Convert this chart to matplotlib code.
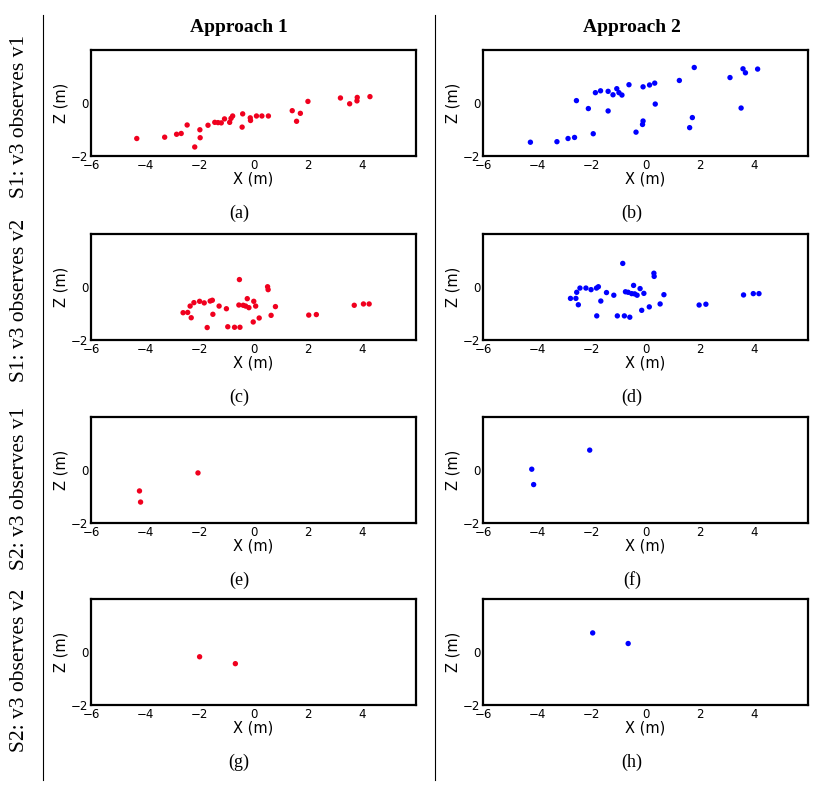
import matplotlib
matplotlib.use("Agg")
import matplotlib.pyplot as plt
from matplotlib.lines import Line2D

# (a) S1, v3 observes v1, approach 1
a_x = [-4.31, -3.28, -2.84, -2.67, -2.45, -2.17, -1.98, -1.97, -1.68, -1.43, -1.31,
       -1.19, -1.07, -0.88, -0.83, -0.77, -0.40, -0.42, -0.12, -0.11, 0.11, 0.31,
       0.55, 1.43, 1.59, 1.73, 2.01, 3.21, 3.55, 3.83, 3.82, 4.30]
a_z = [-1.34, -1.29, -1.18, -1.15, -0.83, -1.66, -1.01, -1.31, -0.84, -0.73, -0.74,
       -0.75, -0.60, -0.73, -0.58, -0.49, -0.41, -0.91, -0.56, -0.66, -0.49, -0.49,
       -0.49, -0.29, -0.69, -0.39, 0.06, 0.19, -0.03, 0.21, 0.08, 0.24]

# (b) S1, v3 observes v1, approach 2
b_x = [-4.25, -3.27, -2.86, -2.62, -2.55, -2.11, -1.93, -1.85, -1.66, -1.38, -1.38,
       -1.20, -1.06, -0.98, -0.87, -0.61, -0.35, -0.09, -0.09, -0.11, 0.15, 0.34,
       0.36, 1.25, 1.63, 1.73, 1.80, 3.12, 3.53, 3.60, 3.69, 4.14]
b_z = [-1.48, -1.46, -1.34, -1.30, 0.09, -0.21, -1.16, 0.39, 0.46, 0.44, -0.30,
       0.31, 0.54, 0.39, 0.30, 0.69, -1.10, 0.61, -0.68, -0.81, 0.68, 0.75,
       -0.04, 0.85, -0.93, -0.55, 1.34, 0.96, -0.19, 1.29, 1.14, 1.28]

# (c) S1, v3 observes v2, approach 1
c_x = [-2.60, -2.43, -2.34, -2.30, -2.20, -1.99, -1.82, -1.71, -1.60, -1.52, -1.50,
       -1.27, -1.00, -0.95, -0.70, -0.50, -0.52, -0.54, -0.38, -0.23, -0.29, -0.17,
       0.01, 0.08, -0.01, 0.21, 0.52, 0.54, 0.65, 0.81, 2.04, 2.32, 3.72, 4.06, 4.27]
c_z = [-0.97, -0.96, -0.72, -1.16, -0.59, -0.54, -0.60, -1.53, -0.53, -0.50, -1.03,
       -0.72, -0.82, -1.50, -1.52, -1.52, 0.28, -0.68, -0.69, -0.44, -0.72, -0.78,
       -0.54, -0.72, -1.32, -1.17, 0.01, -0.10, -1.07, -0.74, -1.06, -1.04, -0.69,
       -0.64, -0.64]

# (d) S1, v3 observes v2, approach 2
d_x = [-2.77, -2.57, -2.54, -2.48, -2.42, -2.20, -2.01, -1.81, -1.74, -1.80, -1.65,
       -1.44, -1.17, -1.04, -0.84, -0.78, -0.58, -0.74, -0.64, -0.51, -0.44, -0.40,
       -0.31, -0.20, -0.06, -0.14, 0.14, 0.31, 0.32, 0.54, 0.68, 1.98, 2.23, 3.62,
       3.98, 4.19]
d_z = [-0.43, -0.43, -0.20, -0.67, -0.04, -0.04, -0.10, -0.04, 0.01, -1.09, -0.53,
       -0.21, -0.31, -1.09, 0.89, -1.09, -1.14, -0.18, -0.20, -0.25, 0.06, -0.26,
       -0.31, -0.06, -0.24, -0.88, -0.75, 0.52, 0.40, -0.64, -0.29, -0.68, -0.65,
       -0.30, -0.25, -0.25]

# (e)-(h) S2
e_x = [-4.21, -4.17, -2.05]
e_z = [-0.79, -1.21, -0.11]
f_x = [-4.20, -4.13, -2.06]
f_z = [0.03, -0.55, 0.75]
g_x = [-1.99, -0.67]
g_z = [-0.18, -0.44]
h_x = [-1.95, -0.64]
h_z = [0.72, 0.32]

col_titles = ["Approach 1", "Approach 2"]
row_titles = ["S1: v3 observes v1", "S1: v3 observes v2",
              "S2: v3 observes v1", "S2: v3 observes v2"]
letters = ["(a)", "(b)", "(c)", "(d)", "(e)", "(f)", "(g)", "(h)"]
xticks = [-6, -4, -2, 0, 2, 4]
yticks = [-2, 0]

panels = [(a_x, a_z), (b_x, b_z), (c_x, c_z), (d_x, d_z),
          (e_x, e_z), (f_x, f_z), (g_x, g_z), (h_x, h_z)]
colors = ["#f0001e", "#0000ff"]

W, H = 816, 786
fig = plt.figure(figsize=(W / 100, H / 100), dpi=100)
serif = "Liberation Serif"

col_left = [91, 483]
col_w = 325
row_top = [50, 234, 417, 599]
ax_h = 106

for i, (px, pz) in enumerate(panels):
    r, c = divmod(i, 2)
    l = col_left[c]
    t = row_top[r]
    ax = fig.add_axes([l / W, 1 - (t + ax_h) / H, col_w / W, ax_h / H])
    ax.scatter(px, pz, s=15, color=colors[c], edgecolors="none", zorder=3)
    ax.set_xlim(-6, 6)
    ax.set_ylim(-2, 2)
    ax.set_xticks(xticks)
    ax.set_yticks(yticks)
    ax.tick_params(length=0, pad=2, labelsize=8.5)
    for sp in ax.spines.values():
        sp.set_linewidth(1.6)
    ax.set_xlabel("X (m)", fontsize=10.5, labelpad=0)
    ax.set_ylabel("Z (m)", fontsize=10.5, labelpad=2)

    cx = 239 if c == 0 else 632
    fig.text(cx / W, 1 - (t + ax_h + 57) / H, letters[i], family=serif,
             fontsize=13, ha="center", va="center")

for c, title in enumerate(col_titles):
    cx = 239 if c == 0 else 632
    fig.text(cx / W, 1 - 27 / H, title, family=serif, fontweight="bold",
             fontsize=14, ha="center", va="center")

row_center = [117, 300, 488, 670]
for r, title in enumerate(row_titles):
    fig.text(20 / W, 1 - row_center[r] / H, title, family=serif, fontsize=15.5,
             rotation=90, ha="center", va="center")

for x in [43, 435]:
    fig.add_artist(Line2D([x / W, x / W], [1 - 15 / H, 1 - 780 / H],
                          color="black", linewidth=0.8))

fig.savefig("out.png", dpi=100)
